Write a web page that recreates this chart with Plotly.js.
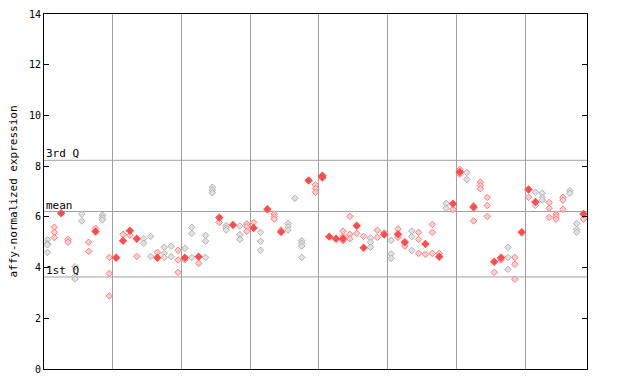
<!DOCTYPE html>
<html><head><meta charset="utf-8">
<script src="https://cdn.plot.ly/plotly-3.0.1.min.js"></script>
<style>html,body{margin:0;padding:0;background:#fff}#chart{width:640px;height:384px}</style>
</head><body><div id="chart"></div>
<script>
// per-sample replicate values (hollow markers)
const openVals = [
 [5.1,4.95,4.9,4.6],[5.59,5.39,5.18],[],[5.11,5.0],[4.03,3.65,3.55],[6.11,5.84],[5.0,4.64],[5.55],[6.07,5.97,5.88],[4.40,3.77,2.88],
 [],[5.31],[5.28],[4.44],[5.14,4.96],[5.23,4.44],[4.60],[4.80,4.56,4.40],[4.84,4.43],[4.68,4.30,3.81],
 [4.76,4.30],[5.59,5.35,4.40],[4.17],[5.27,5.04,4.40],[7.17,7.06,6.95],[5.78],[5.66,5.56,5.48],[],[5.64,5.30,5.11],[5.72,5.61,5.43],
 [5.78],[5.39,5.04,4.68],[],[6.11,6.01,5.91],[5.48],[5.74,5.61,5.48],[6.73],[5.06,4.96,4.85,4.40],[],[7.26,7.12,6.97],
 [],[],[],[5.44,5.22,5.06],[6.02,5.31,5.14],[5.35],[5.23],[5.17,5.0,4.80],[5.47,5.19],[5.37],
 [5.07,4.54,4.36],[5.52,5.19],[4.85],[5.44,5.22,4.68],[5.39,5.11,4.56],[4.52],[5.70,5.39,4.56],[4.56],[6.53,6.34],[6.30],
 [7.87,7.68],[7.75,7.48],[6.44,5.84],[7.37,7.24,7.11],[6.77,6.45,6.02],[3.81],[4.30],[4.80,4.40,3.93],[4.40,4.13,3.54],[],
 [6.77],[6.97,6.45],[6.93,6.77,6.66],[6.57,6.34,5.98],[6.11,6.01,5.91],[6.77,6.66,6.30],[7.03,6.93],[5.74,5.51,5.39],[5.91]
];
// per-sample values drawn as solid markers
const solidVals = [
 [],[],[6.14],[],[],[],[],[5.42],[],[],
 [4.39],[5.06],[5.45],[5.14],[],[],[4.39],[],[],[],
 [4.39],[],[4.43],[],[],[5.97],[],[5.68],[],[],
 [5.56],[],[6.30],[],[5.40],[],[],[],[7.43],[],
 [7.62,7.55],[5.22],[5.14],[5.14],[],[5.65],[4.78],[],[],[5.30],
 [],[5.31],[5.0],[],[],[4.93],[],[4.43],[],[6.52],
 [7.77],[],[6.38],[],[],[4.23],[4.39],[],[],[5.39],
 [7.08],[6.59],[],[],[],[],[],[],[6.11]
];
// colour group of hollow markers per sample: g = grey, r = red
const sampleColor = "grrrggrrgrrrrrggrggrggrggrgrgrrgrrrgggrrrrrrrrrgrrgrrgrrrrgrrgrrrrrgrrrggrrrggr".split("");
const statNames = ["3rd Q","mean","1st Q"];
const statValues = [8.23, 6.21, 3.63];
const groupBounds = [9.5,19.5,29.5,39.5,49.5,59.5,69.5];
const yTicks = [0,2,4,6,8,10,12,14];

const gx=[],gy=[],rx=[],ry=[],sx=[],sy=[];
openVals.forEach((vals,i)=>vals.forEach(v=>{ if(sampleColor[i]==="g"){gx.push(i);gy.push(v);} else {rx.push(i);ry.push(v);} }));
solidVals.forEach((vals,i)=>vals.forEach(v=>{sx.push(i);sy.push(v);}));

const mk=(x,y,color,line,size)=>({x,y,type:"scatter",mode:"markers",hoverinfo:"skip",
  marker:{symbol:"diamond",size:size,color:color,line:{width:line?1:0,color:line||color}}});
const traces=[
  mk(gx,gy,"#e2e2e2","#b0b0b0",5),
  mk(rx,ry,"#ffd0d0","#ff7a7a",5),
  mk(sx,sy,"#ff4d4d",null,6.5)
];

const shapes=statValues.map(v=>({type:"line",xref:"paper",x0:0,x1:1,yref:"y",y0:v,y1:v,line:{color:"#a0a0a0",width:1},layer:"below"}));
const annotations=statValues.map((v,i)=>({xref:"paper",x:0,xanchor:"left",xshift:0,yref:"y",y:v,yanchor:"bottom",yshift:-2,
  text:statNames[i],showarrow:false,font:{family:"DejaVu Sans Mono",size:11,color:"#000"}}));

const layout={
  width:640,height:384,margin:{l:44,r:53,t:14,b:15},
  paper_bgcolor:"#fff",plot_bgcolor:"#fff",showlegend:false,
  font:{family:"DejaVu Sans Mono",size:10,color:"#000"},
  xaxis:{range:[-0.5,78.5],tickvals:groupBounds,showticklabels:false,ticks:"",showgrid:true,gridcolor:"#a0a0a0",gridwidth:1,
    zeroline:false,showline:true,linecolor:"#000",linewidth:1,mirror:true},
  yaxis:{range:[0,14],tickvals:yTicks,ticks:"inside",ticklen:5,tickcolor:"#000",showgrid:false,zeroline:false,
    showline:true,linecolor:"#000",linewidth:1,mirror:"ticks",
    title:{text:"affy-normalized expression",font:{family:"DejaVu Sans Mono",size:11},standoff:9}},
  shapes,annotations
};
Plotly.newPlot("chart",traces,layout,{staticPlot:true,displayModeBar:false});
</script></body></html>
